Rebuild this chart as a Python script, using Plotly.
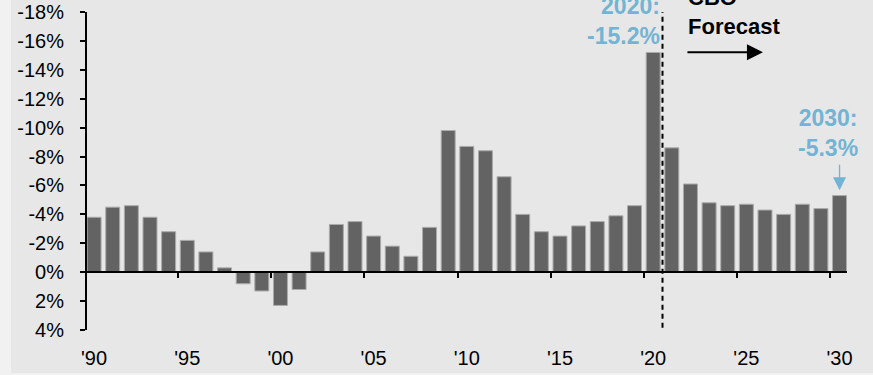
import plotly.graph_objects as go

# Federal budget balance, % of GDP (negative = deficit), 1990-2030
years = list(range(1990, 2031))
balance = [
    -3.8, -4.5, -4.6, -3.8, -2.8, -2.2, -1.4, -0.3, 0.8, 1.3,
    2.3, 1.2, -1.4, -3.3, -3.5, -2.5, -1.8, -1.1, -3.1, -9.8,
    -8.7, -8.4, -6.6, -4.0, -2.8, -2.5, -3.2, -3.5, -3.9, -4.6,
    -15.2, -8.6, -6.1, -4.8, -4.6, -4.7, -4.3, -4.0, -4.7, -4.4,
    -5.3,
]

y_tickvals = [-18, -16, -14, -12, -10, -8, -6, -4, -2, 0, 2, 4]
y_ticktext = ["-18%", "-16%", "-14%", "-12%", "-10%", "-8%", "-6%",
              "-4%", "-2%", "0%", "2%", "4%"]
x_tickvals = [1990, 1995, 2000, 2005, 2010, 2015, 2020, 2025, 2030]
x_ticktext = ["'90", "'95", "'00", "'05", "'10", "'15", "'20", "'25", "'30"]
x_minor_ticks = [1994.5, 1999.5, 2004.5, 2009.5, 2014.5, 2019.5, 2024.5, 2029.5]

forecast_start = 2020.5
peak_year, peak_value = 2020, -15.2
end_year, end_value = 2030, -5.3

FONT = "Arial, Liberation Sans, sans-serif"
BLUE = "#72b4d3"
BG = "#e7e7e7"

fig = go.Figure()
fig.add_trace(go.Bar(
    x=years, y=balance,
    marker=dict(color="#636363", line=dict(color="#ababab", width=1)),
    showlegend=False, hoverinfo="x+y",
))
# invisible helper trace so the zero-line axis is rendered
fig.add_trace(go.Scatter(x=[years[0]], y=[0], xaxis="x2", mode="markers",
                         marker=dict(opacity=0), showlegend=False, hoverinfo="skip"))

x_range = [1989.62, 2030.4]
y_range = [4, -18]

fig.update_layout(
    width=873, height=375,
    margin=dict(l=87, r=26, t=12, b=45, autoexpand=False),
    paper_bgcolor=BG, plot_bgcolor=BG,
    bargap=0.25,
    font=dict(family=FONT, size=20, color="#000000"),
    xaxis=dict(
        range=x_range, tickvals=x_tickvals, ticktext=x_ticktext,
        showline=False, showgrid=False, zeroline=False, ticks="",
        ticklabelstandoff=14, tickfont=dict(size=20), automargin=False,
    ),
    xaxis2=dict(
        range=x_range, overlaying="x", anchor="free",
        position=(y_range[0] - 0) / (y_range[0] - y_range[1]),
        showline=True, linecolor="#000000", linewidth=2,
        ticks="outside", ticklen=5, tickwidth=2, tickcolor="#000000",
        tickvals=x_minor_ticks, showticklabels=False,
        showgrid=False, zeroline=False, automargin=False,
    ),
    yaxis=dict(
        range=y_range, tickvals=y_tickvals, ticktext=y_ticktext,
        showline=True, linecolor="#000000", linewidth=2,
        ticks="outside", ticklen=5, tickwidth=2, tickcolor="#000000",
        showgrid=False, zeroline=False, ticklabelstandoff=12,
        tickfont=dict(size=20), automargin=False,
    ),
)

# forecast divider
fig.add_shape(type="line", xref="x", yref="y",
              x0=forecast_start, x1=forecast_start, y0=3.85, y1=-18.9,
              line=dict(color="#000000", width=2, dash="5px,4px"))

# lighter page border strips
fig.add_shape(type="rect", xref="paper", yref="paper", layer="below",
              x0=-87 / 760, x1=-76 / 760, y0=-45 / 318, y1=1 + 12 / 318,
              line=dict(width=0), fillcolor="#f1f1f1")
fig.add_shape(type="rect", xref="paper", yref="paper", layer="below",
              x0=-87 / 760, x1=1 + 26 / 760, y0=-45 / 318, y1=-43 / 318,
              line=dict(width=0), fillcolor="#f1f1f1")

fig.add_annotation(
    x=forecast_start - 0.05, y=-17.4, xref="x", yref="y",
    text=f"{peak_year}:<br>{peak_value:.1f}%", showarrow=False,
    xanchor="right", yanchor="middle", align="right",
    font=dict(family=FONT, size=23, color=BLUE, weight="bold"),
)
fig.add_annotation(
    x=end_year - 0.62, y=-9.6, xref="x", yref="y",
    text=f"{end_year}:<br>{end_value:.1f}%", showarrow=False,
    xanchor="center", yanchor="middle", align="center",
    font=dict(family=FONT, size=23, color=BLUE, weight="bold"),
)
fig.add_annotation(
    x=end_year, y=-5.67, xref="x", yref="y", text="",
    showarrow=True, ax=0, ay=-27, arrowhead=2, arrowsize=2,
    arrowwidth=1.3, arrowcolor=BLUE, standoff=0,
)
fig.add_annotation(
    x=2021.76, y=-18.0, xref="x", yref="y",
    text="CBO<br>Forecast", showarrow=False,
    xanchor="left", yanchor="middle", align="left",
    font=dict(family=FONT, size=22, color="#000000", weight="bold"),
)
fig.add_annotation(
    x=2025.89, y=-15.22, xref="x", yref="y", text="",
    showarrow=True, ax=-77, ay=0, arrowhead=2, arrowsize=1.6,
    arrowwidth=2, arrowcolor="#000000", standoff=0,
)

fig.write_html("out.html")
